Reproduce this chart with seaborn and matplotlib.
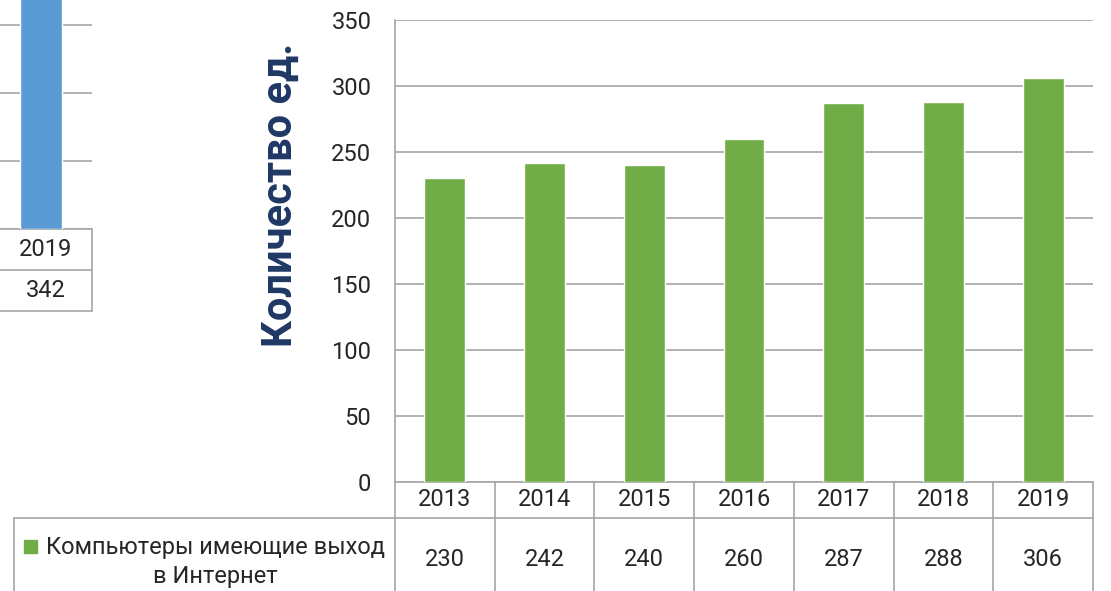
import numpy as np
import pandas as pd
import seaborn as sns
import matplotlib.pyplot as plt
import matplotlib.transforms as mtransforms

years = ["2013", "2014", "2015", "2016", "2017", "2018", "2019"]
computers = [230, 242, 240, 260, 287, 288, 306]
series_name = "Компьютеры имеющие выход\nв Интернет"
y_label = "Количество ед."

# partial neighbour chart on the left
left_years = ["2019"]
left_values = [342]

GREEN = "#70AD47"
BLUE = "#5B9BD5"
GRID = "#A6A6A6"
NAVY = "#1F3864"
FS = 17

sns.set_style("white")
plt.rcParams["font.family"] = ["Roboto", "DejaVu Sans"]

W, H = 1111, 591
fig = plt.figure(figsize=(W / 100, H / 100), dpi=100)

def px_axes(x0, y0, x1, y1):
    # pixel box (top-left origin) -> figure axes
    return fig.add_axes([x0 / W, 1 - y1 / H, (x1 - x0) / W, (y1 - y0) / H])

# ---------------- main chart
ax = px_axes(395, 20, 1093, 482)
df = pd.DataFrame({"year": years, "value": computers})
sns.barplot(data=df, x="year", y="value", color=GREEN, width=0.41,
            saturation=1, ax=ax, zorder=3)
ax.set_ylim(0, 350)
ax.set_xlim(-0.5, len(years) - 0.5)
ax.set_yticks(np.arange(0, 351, 50))
ax.tick_params(axis="y", labelsize=FS, length=0, pad=17)
ax.set_xticks([])
ax.set_xlabel("")
ax.set_ylabel("")
ax.yaxis.grid(True, color=GRID, lw=1.2, zorder=0)
for s in ["top", "right", "bottom"]:
    ax.spines[s].set_visible(False)
ax.spines["left"].set_color(GRID)
ax.spines["left"].set_linewidth(1.2)

fig.text(280 / W, 1 - 195 / H, y_label, rotation=90, ha="center", va="center",
         fontsize=30, fontweight="bold", color=NAVY)

# data table under the chart
trans = mtransforms.blended_transform_factory(ax.transData, ax.transAxes)
ah = 462.0
row1 = -36 / ah
bottom = -0.4
leg_x = (14 - 395) / (1093 - 395) * len(years) - 0.5
lkw = dict(color=GRID, lw=1.2, clip_on=False)
ax.plot([-0.5, len(years) - 0.5], [0, 0], transform=trans, **lkw)
for i in range(len(years) + 1):
    ax.plot([i - 0.5, i - 0.5], [0, bottom], transform=trans, **lkw)
ax.plot([leg_x, len(years) - 0.5], [row1, row1], transform=trans, **lkw)
ax.plot([leg_x, leg_x], [row1, bottom], transform=trans, **lkw)
for i, (yr, v) in enumerate(zip(years, computers)):
    ax.text(i, row1 / 2, yr, transform=trans, ha="center", va="center", fontsize=FS)
    ax.text(i, -78 / ah, str(v), transform=trans, ha="center", va="center", fontsize=FS)

fig.text(215 / W, 1 - 562 / H, series_name, ha="center", va="center",
         fontsize=FS, linespacing=1.3)
fig.patches.append(plt.Rectangle((24 / W, 1 - 553 / H), 13 / W, 13 / H,
                                 transform=fig.transFigure, color=GREEN))

# ---------------- cut-off chart at the left edge
ax2 = px_axes(0, -250, 92, 229)
sns.barplot(x=left_years, y=left_values, color=BLUE, width=0.456,
            saturation=1, ax=ax2, zorder=3)
ax2.set_ylim(0, 50 * 479 / 68)
ax2.set_xlim(-0.446, 0.554)
ax2.set_yticks(np.arange(0, 351, 50))
ax2.set_yticklabels([])
ax2.tick_params(length=0)
ax2.set_xticks([])
ax2.yaxis.grid(True, color=GRID, lw=1.2, zorder=0)
for s in ax2.spines.values():
    s.set_visible(False)
t2 = ax2.transAxes
r = 41 / 479
ax2.plot([0, 1], [0, 0], transform=t2, **lkw)
ax2.plot([0, 1], [-r, -r], transform=t2, **lkw)
ax2.plot([0, 1], [-2 * r, -2 * r], transform=t2, **lkw)
ax2.plot([1, 1], [0, -2 * r], transform=t2, **lkw)
ax2.text(0.5, -r / 2, left_years[0], transform=t2, ha="center", va="center", fontsize=FS)
ax2.text(0.5, -1.5 * r, str(left_values[0]), transform=t2, ha="center", va="center", fontsize=FS)

fig.savefig("out.png", dpi=100)
